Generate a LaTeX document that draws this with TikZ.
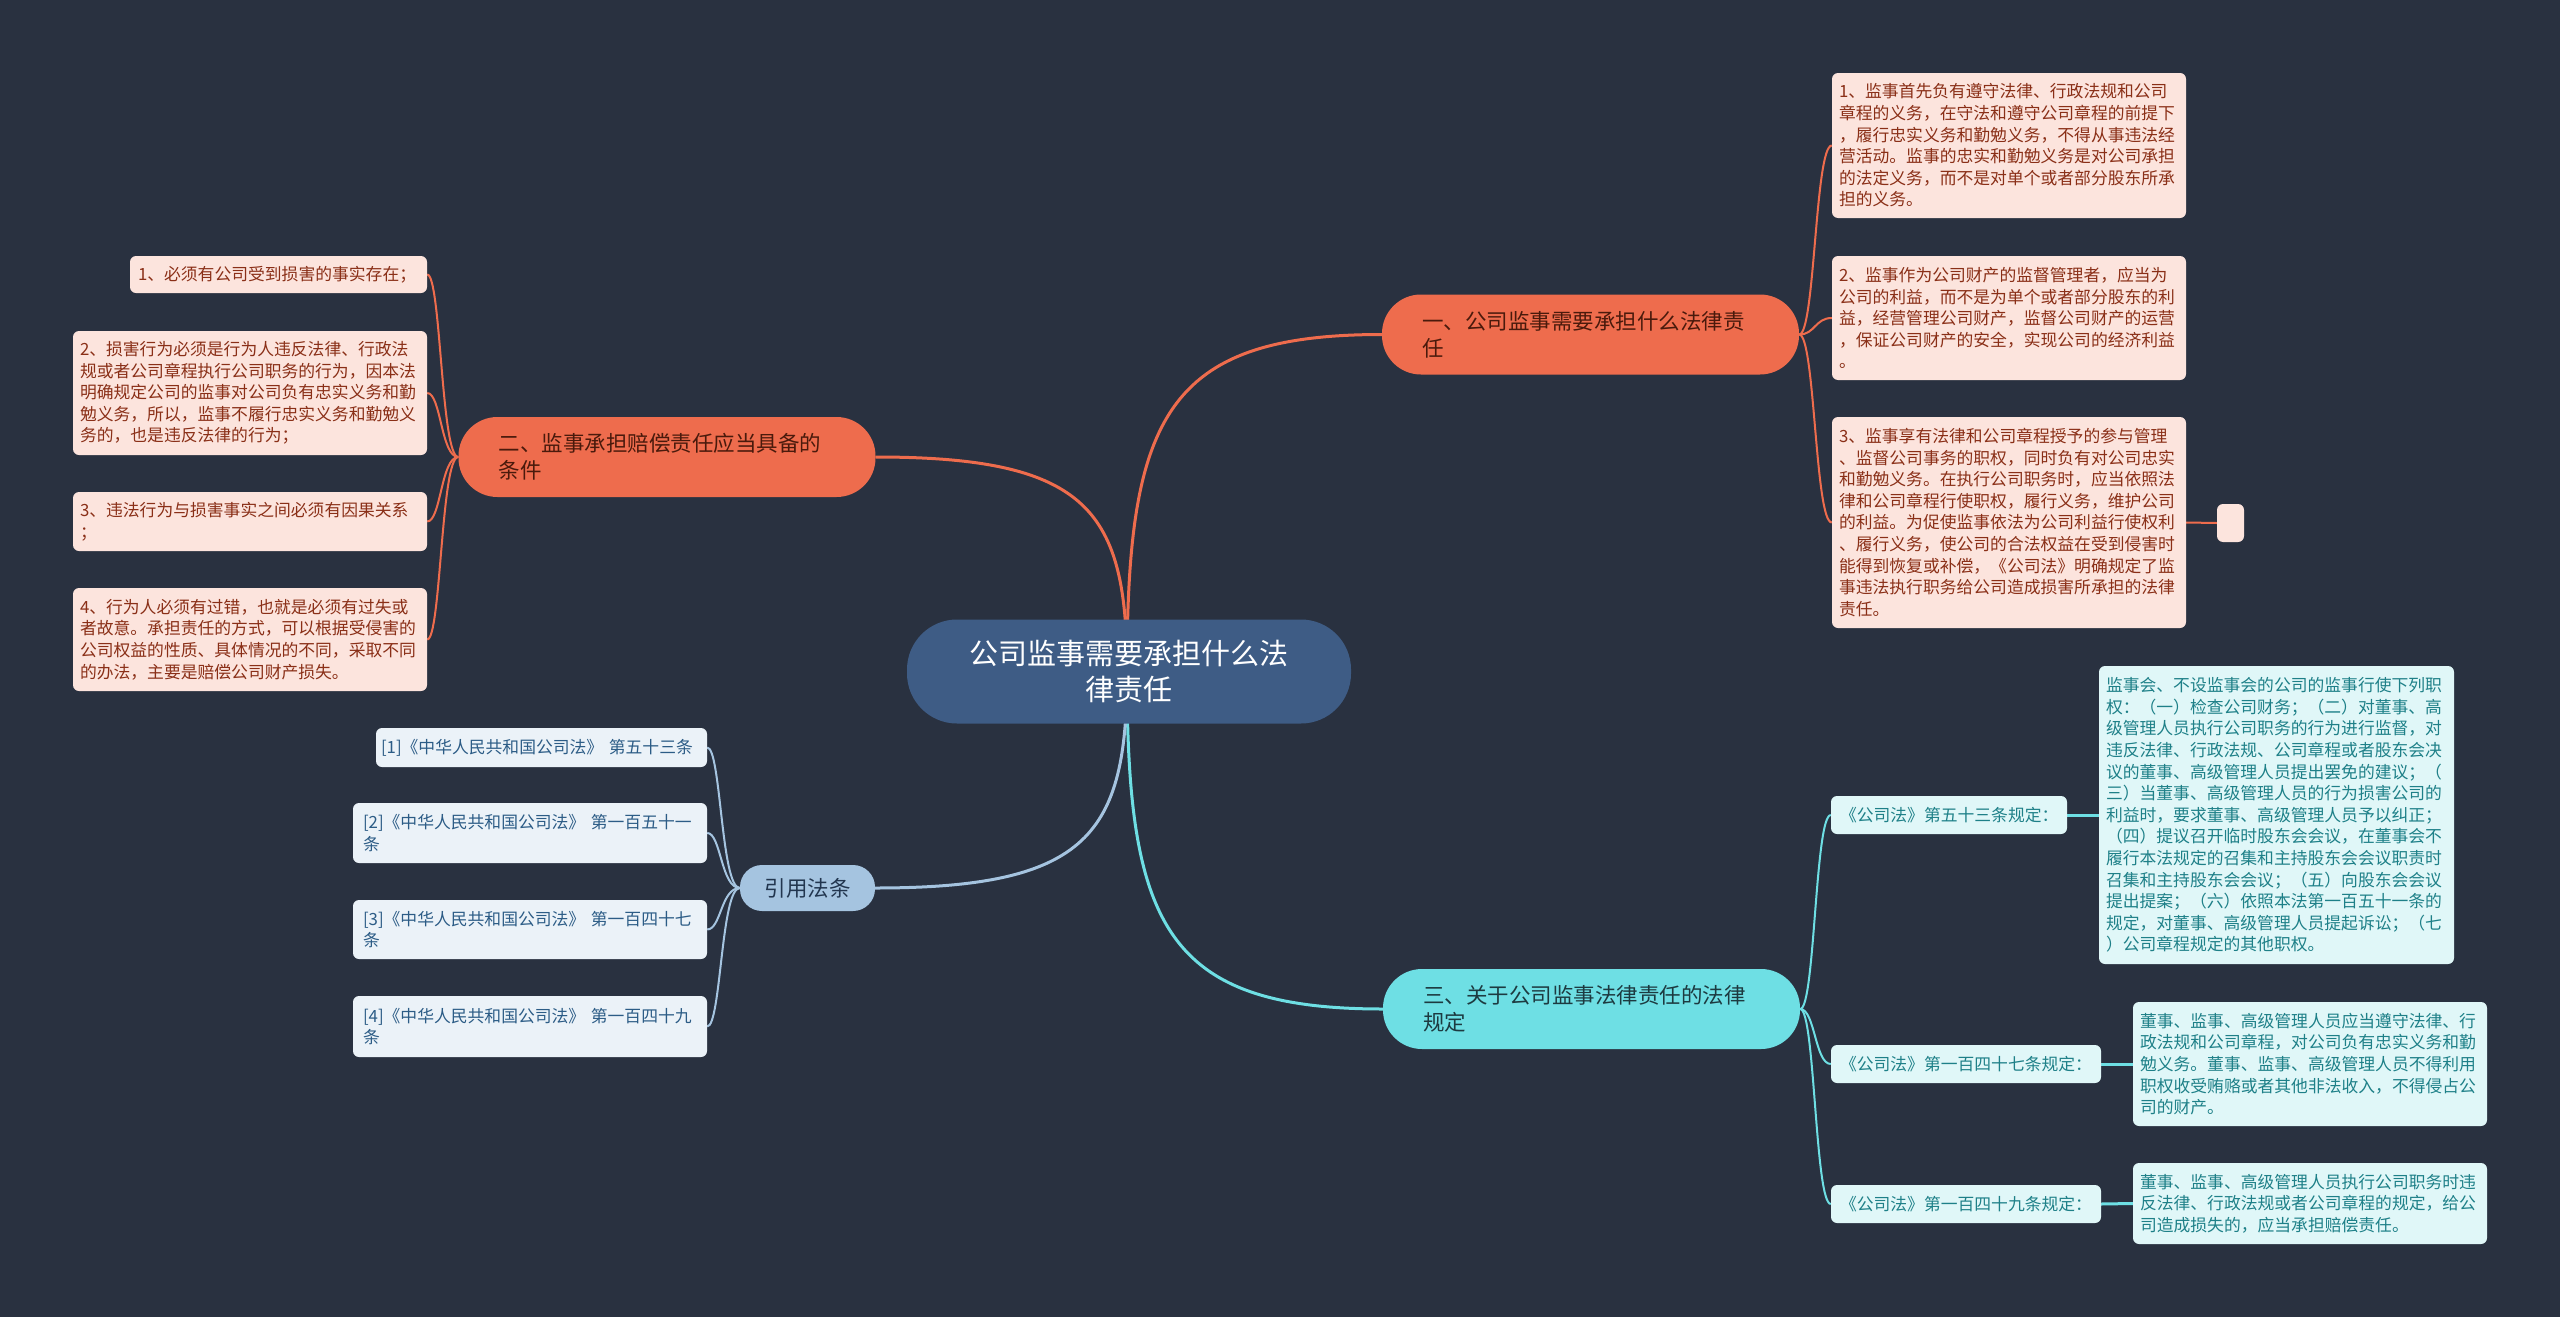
\documentclass[tikz,border=0pt]{standalone}
\usepackage{fontspec}
\setmainfont{Noto Sans CJK SC}
\usetikzlibrary{backgrounds}
\definecolor{bg}{HTML}{293140}
\definecolor{cen}{HTML}{3E5C85}
\definecolor{org}{HTML}{EE6C4D}
\definecolor{orgtxt}{HTML}{4A1A0C}
\definecolor{pinkfill}{HTML}{FCE4DD}
\definecolor{pinktxt}{HTML}{8A2F17}
\definecolor{cyn}{HTML}{6EDFE4}
\definecolor{cyntxt}{HTML}{1D3A40}
\definecolor{cynfill}{HTML}{E0F7F8}
\definecolor{cynleaf}{HTML}{1E8088}
\definecolor{blu}{HTML}{A5C4E0}
\definecolor{blutxt}{HTML}{22364F}
\definecolor{blufill}{HTML}{EBF2F8}
\definecolor{bluleaf}{HTML}{2C5C86}
\tikzset{
  lf/.style={rounded corners=6pt, font=\fontsize{16.8}{21.6}\selectfont, inner xsep=7pt, inner ysep=2pt, align=left},
  pk/.style={lf, fill=pinkfill, text=pinktxt},
  cy/.style={lf, fill=cynfill, text=cynleaf},
  bl/.style={lf, fill=blufill, text=bluleaf},
  br/.style={rounded corners=39pt, font=\fontsize{21.5}{26.7}\selectfont, inner xsep=40pt, inner ysep=2pt, minimum height=80pt, text width=337pt, align=left},
  mainc/.style={line width=3pt},
  lc/.style={line width=2pt},
}
\begin{document}
\begin{tikzpicture}[x=1pt,y=-1pt]
\useasboundingbox (0,0) rectangle (2560,1317);
% central
\node[rounded corners=50pt, fill=cen, text=white, font=\fontsize{29}{36.7}\selectfont, text width=380pt, inner xsep=32pt, inner ysep=2pt, minimum height=104pt, align=center] (c) at (1129,671.5) {公司监事需要承担什么法\\律责任};
% branches
\node[br, fill=org, text=orgtxt] (b1) at (1590.5,334.5) {一、公司监事需要承担什么法律责\\任};
\node[br, fill=org, text=orgtxt] (b2) at (667,457) {二、监事承担赔偿责任应当具备的\\条件};
\node[br, fill=cyn, text=cyntxt] (b3) at (1591.5,1009) {三、关于公司监事法律责任的法律\\规定};
\node[rounded corners=22pt, fill=blu, text=blutxt, font=\fontsize{21.5}{26.7}\selectfont, text width=88pt, inner xsep=23.5pt, inner ysep=2pt, minimum height=46pt, align=center] (b4) at (807.5,888) {引用法条};
% branch 1 leaves
\node[pk, text width=340pt, minimum height=145pt] (l1a) at (2009,145.5) {1、监事首先负有遵守法律、行政法规和公司\\章程的义务，在守法和遵守公司章程的前提下\\，履行忠实义务和勤勉义务，不得从事违法经\\营活动。监事的忠实和勤勉义务是对公司承担\\的法定义务，而不是对单个或者部分股东所承\\担的义务。};
\node[pk, text width=340pt, minimum height=124pt] (l1b) at (2009,318) {2、监事作为公司财产的监督管理者，应当为\\公司的利益，而不是为单个或者部分股东的利\\益，经营管理公司财产，监督公司财产的运营\\，保证公司财产的安全，实现公司的经济利益\\。};
\node[pk, text width=340pt, minimum height=211pt] (l1c) at (2009,522.5) {3、监事享有法律和公司章程授予的参与管理\\、监督公司事务的职权，同时负有对公司忠实\\和勤勉义务。在执行公司职务时，应当依照法\\律和公司章程行使职权，履行义务，维护公司\\的利益。为促使监事依法为公司利益行使权利\\、履行义务，使公司的合法权益在受到侵害时\\能得到恢复或补偿，《公司法》明确规定了监\\事违法执行职务给公司造成损害所承担的法律\\责任。};
\node[pk, minimum width=27pt, minimum height=38pt, inner sep=0pt] (sm) at (2230.5,523) {};
% branch 2 leaves
\node[pk, text width=281pt, inner xsep=8pt, minimum height=37pt] (l2a) at (278.5,274.5) {1、必须有公司受到损害的事实存在；};
\node[pk, text width=340pt, minimum height=124pt] (l2b) at (250,393) {2、损害行为必须是行为人违反法律、行政法\\规或者公司章程执行公司职务的行为，因本法\\明确规定公司的监事对公司负有忠实义务和勤\\勉义务，所以，监事不履行忠实义务和勤勉义\\务的，也是违反法律的行为；};
\node[pk, text width=340pt, minimum height=59pt] (l2c) at (250,521.5) {3、违法行为与损害事实之间必须有因果关系\\；};
\node[pk, text width=340pt, minimum height=103pt] (l2d) at (250,639.5) {4、行为人必须有过错，也就是必须有过失或\\者故意。承担责任的方式，可以根据受侵害的\\公司权益的性质、具体情况的不同，采取不同\\的办法，主要是赔偿公司财产损失。};
% branch 4 leaves
\node[bl, text width=321pt, inner xsep=5pt, minimum height=39pt] (l4a) at (541.5,747.5) {\mbox{[1]《中华人民共和国公司法》~第五十三条}};
\node[bl, text width=334pt, inner xsep=10pt, minimum height=60pt] (l4b) at (530,833) {[2]《中华人民共和国公司法》 第一百五十一\\条};
\node[bl, text width=334pt, inner xsep=10pt, minimum height=59pt] (l4c) at (530,929.5) {[3]《中华人民共和国公司法》 第一百四十七\\条};
\node[bl, text width=334pt, inner xsep=10pt, minimum height=61pt] (l4d) at (530,1026.5) {[4]《中华人民共和国公司法》 第一百四十九\\条};
% branch 3 leaves
\node[cy, text width=218pt, inner xsep=9pt, minimum height=38pt] (l3a) at (1949,815) {《公司法》第五十三条规定：};
\node[cy, text width=252pt, inner xsep=9pt, minimum height=38pt] (l3b) at (1966,1064) {《公司法》第一百四十七条规定：};
\node[cy, text width=252pt, inner xsep=9pt, minimum height=38pt] (l3c) at (1966,1204) {《公司法》第一百四十九条规定：};
\node[cy, text width=341pt, minimum height=298pt] (d3a) at (2276.5,815) {监事会、不设监事会的公司的监事行使下列职\\权：（一）检查公司财务；（二）对董事、高\\级管理人员执行公司职务的行为进行监督，对\\违反法律、行政法规、公司章程或者股东会决\\议的董事、高级管理人员提出罢免的建议；（\\三）当董事、高级管理人员的行为损害公司的\\利益时，要求董事、高级管理人员予以纠正；\\（四）提议召开临时股东会会议，在董事会不\\履行本法规定的召集和主持股东会会议职责时\\召集和主持股东会会议；（五）向股东会会议\\提出提案；（六）依照本法第一百五十一条的\\规定，对董事、高级管理人员提起诉讼；（七\\）公司章程规定的其他职权。};
\node[cy, text width=340pt, minimum height=124pt] (d3b) at (2310,1064) {董事、监事、高级管理人员应当遵守法律、行\\政法规和公司章程，对公司负有忠实义务和勤\\勉义务。董事、监事、高级管理人员不得利用\\职权收受贿赂或者其他非法收入，不得侵占公\\司的财产。};
\node[cy, text width=340pt, minimum height=81pt] (d3c) at (2310,1203.5) {董事、监事、高级管理人员执行公司职务时违\\反法律、行政法规或者公司章程的规定，给公\\司造成损失的，应当承担赔偿责任。};
% bracket x positions
\coordinate (k1) at (1815,0);
\coordinate (k2) at (441,0);
\coordinate (k3) at (1815,0);
\coordinate (k4) at (721,0);
\coordinate (cc) at (1127,672);
\begin{scope}[on background layer]
\fill[bg] (0,0) rectangle (2560,1317);
\draw[mainc, org] (cc) .. controls (1127,418) and (1165,334.5) .. (b1.west);
\draw[mainc, org] (cc) .. controls (1127,511) and (1089,457) .. (b2.east);
\draw[mainc, cyn] (cc) .. controls (1127,925) and (1165,1009) .. (b3.west);
\draw[mainc, blu] (cc) .. controls (1127,834) and (1089,888) .. (b4.east);
\foreach \n in {l1a,l1b,l1c}
  \draw[lc, org] (b1.east) .. controls (b1.east -| k1) and (\n.west -| k1) .. (\n.west);
\draw[lc, org] (l1c.east) -- (sm.west);
\foreach \n in {l2a,l2b,l2c,l2d}
  \draw[lc, org] (b2.west) .. controls (b2.west -| k2) and (\n.east -| k2) .. (\n.east);
\foreach \n in {l3a,l3b,l3c}
  \draw[lc, cyn] (b3.east) .. controls (b3.east -| k3) and (\n.west -| k3) .. (\n.west);
\draw[mainc, cyn] (l3a.east) -- (d3a.west);
\draw[mainc, cyn] (l3b.east) -- (d3b.west);
\draw[mainc, cyn] (l3c.east) -- (d3c.west);
\foreach \n in {l4a,l4b,l4c,l4d}
  \draw[lc, blu] (b4.west) .. controls (b4.west -| k4) and (\n.east -| k4) .. (\n.east);
\end{scope}
\end{tikzpicture}
\end{document}
